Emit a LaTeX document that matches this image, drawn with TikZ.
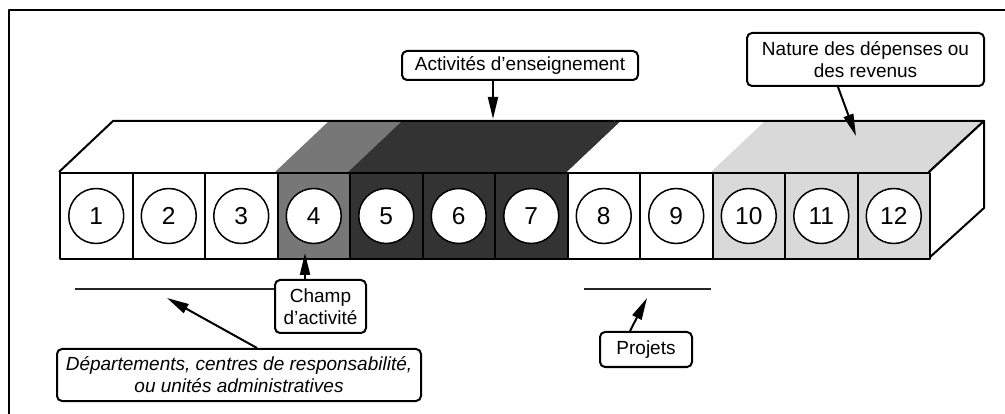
\documentclass[tikz,border=0pt]{standalone}
\usepackage{fontspec}
\setmainfont{Liberation Sans}
\usepackage{tikz}
\usetikzlibrary{
    positioning,
    arrows.meta
}
\definecolor{gris}{HTML}{777777}
\definecolor{sombre}{HTML}{333333}
\definecolor{clair}{HTML}{D9D9D9}

\begin{document}
\begin{tikzpicture}[x=1pt,y=-1pt,line width=2pt,line join=round,
        case/.style={draw,minimum width=72.5pt,minimum height=86pt,inner sep=0pt,anchor=north west},
        rond/.style={circle,draw,fill=white,minimum size=55pt,inner sep=0pt,line width=1.5pt,
            font=\fontsize{24.5}{24.5}\selectfont},
        etiquette/.style={draw,rounded corners=5pt,fill=white,align=center,inner sep=0pt,
            font=\fontsize{19}{22}\selectfont},
        fleche/.style={-{Triangle[length=22pt,width=10pt]}},
        trait/.style={line width=1.6pt,black!85}]
            \useasboundingbox (0,0) rectangle (1005,414);
            % cadre
            \draw (9,420) -- (9,10) -- (1010,10);
            % dessus du bloc
            \fill[white] (59,172) -- (113,121) -- (329,121) -- (275,172) -- cycle;
            \fill[gris] (275,172) -- (329,121) -- (402,121) -- (348,172) -- cycle;
            \fill[sombre] (348,172) -- (402,121) -- (621,121) -- (567,172) -- cycle;
            \fill[white] (567,172) -- (621,121) -- (765,121) -- (711,172) -- cycle;
            \fill[clair] (711,172) -- (765,121) -- (984,121) -- (929,172) -- cycle;
            \draw (59,172) -- (113,121) -- (984,121) -- (929,172);
            % cote droit
            \filldraw[fill=white] (929,172) -- (984,121) -- (984,208) -- (929,258) -- cycle;
            % cases numerotees
            \foreach \i/\col in {1/white,2/white,3/white,4/gris,5/sombre,6/sombre,
                    7/sombre,8/white,9/white,10/clair,11/clair,12/clair} {
                \node[case,fill=\col] (c\i) at ({59+(\i-1)*72.5},172) {};
                \node[rond] (n\i) at (c\i.center) {\i};
            }
            % etiquettes
            \node[etiquette,minimum width=236pt,minimum height=29pt] (enseign) at (520,65.5)
                {Activités d'enseignement};
            \node[etiquette,minimum width=237pt,minimum height=53pt] (nature) at (865.5,59.5)
                {Nature des dépenses ou\\des revenus};
            \node[etiquette,minimum width=91pt,minimum height=53pt] (champ) at (320.5,306.5)
                {Champ\\d'activité};
            \node[etiquette,minimum width=364pt,minimum height=52pt,font=\fontsize{19}{22}\selectfont\itshape]
                (depart) at (239,375)
                {Départements, centres de responsabilité,\\ou unités administratives};
            \node[etiquette,minimum width=92pt,minimum height=35pt] (projets) at (646,349.5)
                {Projets};
            % traits horizontaux
            \coordinate (ligneA) at (75,289);
            \coordinate (ligneB) at (584,289);
            \coordinate (ligneC) at (711,289);
            \draw[trait] (ligneA) -- (ligneA -| champ.west);
            \draw[trait] (ligneB) -- (ligneC);
            % fleches
            \coordinate (dessus) at (493,119);
            \coordinate (dessusB) at (856,136);
            \coordinate (bas4) at (305,253);
            \coordinate (pointeA) at (167,298);
            \coordinate (pointeB) at (647,298);
            \draw[fleche] ([xshift=-27pt]enseign.south) -- (dessus);
            \draw[fleche] ([xshift=-27.5pt]nature.south) -- (dessusB);
            \draw[fleche] ([xshift=-15.5pt]champ.north) -- (bas4);
            \draw[fleche] ([xshift=18pt]depart.north) -- (pointeA);
            \draw[fleche] ([xshift=-16pt]projets.north) -- (pointeB);
\end{tikzpicture}
\end{document}
